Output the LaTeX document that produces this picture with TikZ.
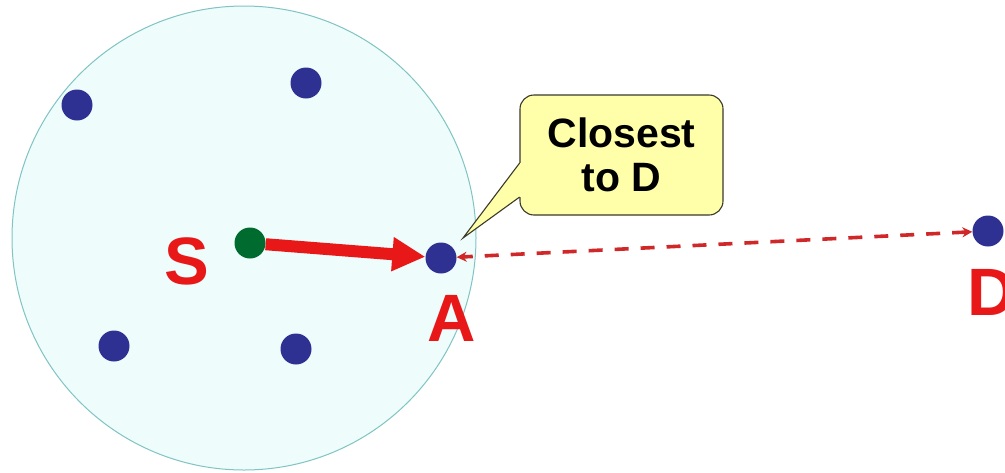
\documentclass[tikz,border=0pt]{standalone}
\usepackage{fontspec}
\setmainfont{Liberation Sans}
\usetikzlibrary{arrows.meta}
\definecolor{zonefill}{HTML}{EFFCFC}
\definecolor{zoneline}{HTML}{80C4C4}
\definecolor{dotblue}{HTML}{2E3192}
\definecolor{dotgreen}{HTML}{006B2E}
\definecolor{lblred}{HTML}{E81818}
\definecolor{dashred}{HTML}{D02828}
\definecolor{boxfill}{HTML}{FFFFAA}
\definecolor{boxline}{HTML}{3A3A2A}
\tikzset{
  dot/.style={circle, inner sep=0pt, minimum size=31pt, fill=#1},
  dot/.default=dotblue,
  lbl/.style={text=lblred, font=\bfseries\fontsize{67}{67}\selectfont, inner sep=0pt},
  callbox/.style={draw=boxline, line width=1.1pt, fill=boxfill, rounded corners=14pt,
    minimum width=203pt, minimum height=120pt, align=center, inner sep=0pt,
    font=\bfseries\fontsize{41}{44}\selectfont},
  hop/.style={draw=lblred, line width=12pt, -{Triangle[length=33pt,width=32pt]}, shorten >=0pt},
  dashline/.style={draw=dashred, line width=3.6pt, dash pattern=on 14pt off 12pt,
    {Stealth[length=10pt,width=10pt]}-{Stealth[length=10pt,width=10pt]}}
}
\begin{document}
\begin{tikzpicture}[x=1pt, y=-1pt]
\useasboundingbox (0,0) rectangle (1005,472);
\fill[white] (0,0) rectangle (1005,472);
% transmission range
\node[circle, draw=zoneline, line width=1pt, fill=zonefill, minimum size=464pt, inner sep=0pt] (range) at (244,238) {};
% nodes
\node[dot] (n1) at (77,105) {};
\node[dot] (n2) at (306,83) {};
\node[dot] (n3) at (114,346) {};
\node[dot] (n4) at (296,349) {};
\node[dot=dotgreen] (s) at (250,243) {};
\node[dot] (a) at (441,258) {};
\node[dot] (d) at (988,231) {};
% labels
\node[lbl] (ls) at (187,261) {S};
\node[lbl] (la) at (452,318) {A};
\node[lbl] (ld) at (992,292) {D};
% connectors
\draw[dashline] (d) -- (a);
\draw[hop] (s) -- (a);
% callout
\node[callbox] (cl) at (621.5,155) {Closest\\to D};
\coordinate (tip) at (463,238);
\coordinate (b1) at ([yshift=-8pt,xshift=0.2pt]cl.west);
\coordinate (b2) at ([yshift=-42pt,xshift=0.2pt]cl.west);
\fill[boxfill] (b1) -- (tip) -- (b2) -- ([xshift=2pt]b2) -- ([xshift=2pt]b1) -- cycle;
\draw[boxline, line width=1.1pt, line join=miter] (b1) -- (tip) -- (b2);
\end{tikzpicture}
\end{document}
